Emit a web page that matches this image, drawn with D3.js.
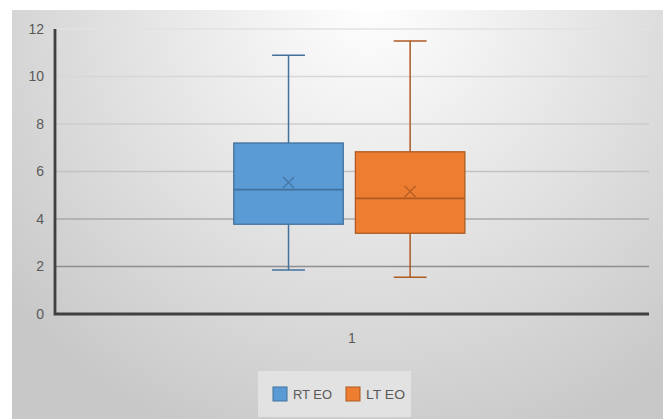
<!DOCTYPE html>
<html><head><meta charset="utf-8">
<script src="https://cdn.jsdelivr.net/npm/d3@7"></script>
<style>html,body{margin:0;padding:0;background:#fff;}svg{display:block;}</style>
</head><body>
<script>
const categories = ["1"];
const seriesNames = ["RT EO", "LT EO"];
const seriesColors = ["#5b9bd5", "#ed7d31"];
const seriesStrokes = ["#41719c", "#ae5a21"];
const mins = [1.85, 1.55];
const q1s = [3.78, 3.40];
const medians = [5.24, 4.87];
const q3s = [7.20, 6.83];
const maxs = [10.9, 11.5];
const means = [5.54, 5.16];
const yTicks = [0, 2, 4, 6, 8, 10, 12];

const W = 670, H = 419;
const svg = d3.select("body").append("svg").attr("width", W).attr("height", H);
const defs = svg.append("defs");
const rg = defs.append("radialGradient").attr("id", "bg")
  .attr("gradientUnits", "userSpaceOnUse")
  .attr("cx", 370).attr("cy", 0).attr("r", 470);
rg.append("stop").attr("offset", "0%").attr("stop-color", "#ffffff");
rg.append("stop").attr("offset", "35%").attr("stop-color", "#ececec");
rg.append("stop").attr("offset", "100%").attr("stop-color", "#c8c8c8");

svg.append("rect").attr("x", 12).attr("y", 10).attr("width", 651).attr("height", H - 10).attr("fill", "url(#bg)");

const plotL = 55, plotR = 649, plotT = 29, plotB = 314;
const y = d3.scaleLinear().domain([0, 12]).range([plotB, plotT]);
const x0 = d3.scaleBand().domain(categories).range([plotL, plotR]);
const gridColor = d3.scaleLinear().domain([0, 2, 6, 12]).range(["#7a7a7a", "#8e8e8e", "#c2c2c2", "#e2e2e2"]);
const font = "Liberation Sans, Arial, sans-serif";

// gridlines
svg.append("g").selectAll("line").data(yTicks.filter(d => d > 0)).join("line")
  .attr("x1", plotL).attr("x2", plotR)
  .attr("y1", d => y(d)).attr("y2", d => y(d))
  .attr("stroke", d => gridColor(d)).attr("stroke-width", 1.3);

// y axis labels
const yAxis = d3.axisLeft(y).tickValues(yTicks).tickSize(0).tickPadding(11);
const gy = svg.append("g").attr("transform", `translate(${plotL},0)`).call(yAxis);
gy.select(".domain").remove();
gy.selectAll("text").attr("fill", "#595959").style("font-family", font).style("font-size", "14px");

// x axis labels
const xAxis = d3.axisBottom(x0).tickSize(0).tickPadding(19);
const gx = svg.append("g").attr("transform", `translate(0,${plotB})`).call(xAxis);
gx.select(".domain").remove();
gx.selectAll("text").attr("fill", "#595959").style("font-family", font).style("font-size", "14px");

// boxes
const data = seriesNames.map((s, i) => ({ s, i, min: mins[i], q1: q1s[i], med: medians[i], q3: q3s[i], max: maxs[i], mean: means[i] }));
categories.forEach(cat => {
  const bx = x0(cat), bw = x0.bandwidth();
  const x1 = d3.scaleBand().domain(seriesNames)
    .range([bx + bw * 0.301, bx + bw * 0.690]).paddingInner(0.1);
  const g = svg.append("g");
  const items = g.selectAll("g.box").data(data).join("g").attr("class", "box");
  items.each(function (d) {
    const sel = d3.select(this);
    const left = x1(d.s), w = x1.bandwidth(), cx = left + w / 2;
    const stroke = seriesStrokes[d.i], fill = seriesColors[d.i];
    const capW = w * 0.3;
    sel.append("line").attr("x1", cx).attr("x2", cx).attr("y1", y(d.max)).attr("y2", y(d.q3)).attr("stroke", stroke).attr("stroke-width", 1.5);
    sel.append("line").attr("x1", cx).attr("x2", cx).attr("y1", y(d.q1)).attr("y2", y(d.min)).attr("stroke", stroke).attr("stroke-width", 1.5);
    sel.append("line").attr("x1", cx - capW / 2).attr("x2", cx + capW / 2).attr("y1", y(d.max)).attr("y2", y(d.max)).attr("stroke", stroke).attr("stroke-width", 1.5);
    sel.append("line").attr("x1", cx - capW / 2).attr("x2", cx + capW / 2).attr("y1", y(d.min)).attr("y2", y(d.min)).attr("stroke", stroke).attr("stroke-width", 1.5);
    sel.append("rect").attr("x", left).attr("y", y(d.q3)).attr("width", w).attr("height", y(d.q1) - y(d.q3))
      .attr("fill", fill).attr("stroke", stroke).attr("stroke-width", 1.3);
    sel.append("line").attr("x1", left).attr("x2", left + w).attr("y1", y(d.med)).attr("y2", y(d.med)).attr("stroke", stroke).attr("stroke-width", 1.8);
    const m = 5.5, my = y(d.mean);
    sel.append("path").attr("d", `M${cx - m},${my - m}L${cx + m},${my + m}M${cx - m},${my + m}L${cx + m},${my - m}`)
      .attr("stroke", stroke).attr("stroke-width", 1.4).attr("fill", "none").attr("opacity", 0.85);
  });
});

// axis lines
svg.append("path").attr("d", `M${plotL},${plotT}V${plotB}H${plotR}`).attr("fill", "none").attr("stroke", "#404040").attr("stroke-width", 2.8);

// legend
const lg = svg.append("g");
lg.append("rect").attr("x", 258).attr("y", 371).attr("width", 153).attr("height", 46).attr("fill", "#e2e2e2");
const legendX = [273, 346];
seriesNames.forEach((s, i) => {
  lg.append("rect").attr("x", legendX[i]).attr("y", 387).attr("width", 14).attr("height", 14)
    .attr("fill", seriesColors[i]).attr("stroke", seriesStrokes[i]).attr("stroke-width", 1);
  lg.append("text").attr("x", legendX[i] + 20).attr("y", 399).text(s)
    .attr("fill", "#595959").style("font-family", font).style("font-size", "13.5px")
    .attr("textLength", 39).attr("lengthAdjust", "spacingAndGlyphs");
});
</script>
</body></html>
